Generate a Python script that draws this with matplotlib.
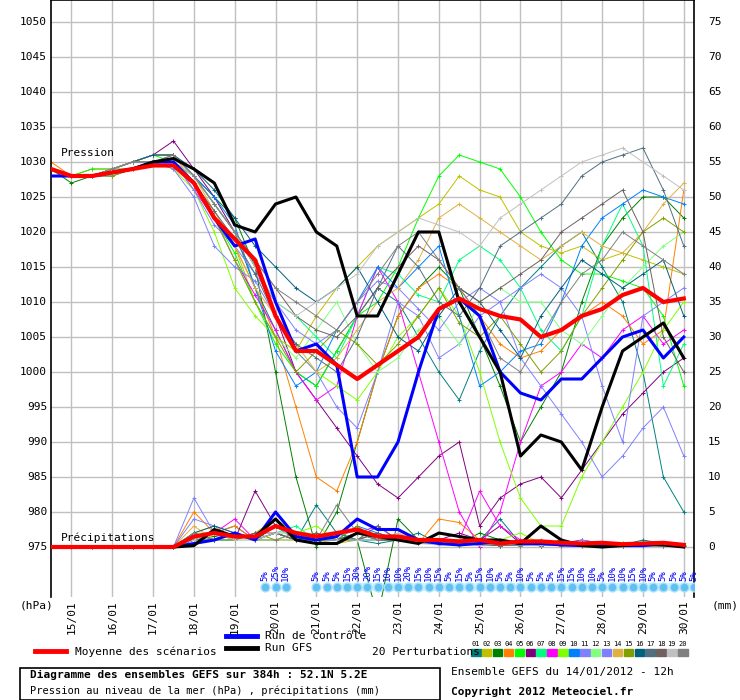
import numpy as np
import matplotlib.pyplot as plt
from matplotlib.patches import Rectangle

plt.rcParams['font.family'] = 'DejaVu Sans Mono'

# 12h steps from 14/01 12h
hours = np.arange(32) * 12

mean_p = [1029,1028,1028,1028.5,1029,1029.5,1029.5,1027,1022,1019,1016,1008,1003,1003,1001,999,1001,1003,1005,1009,1010.5,1009,1008,1007.5,1005,1006,1008,1009,1011,1012,1010,1010.5]
ctrl_p = [1028,1028,1028,1028.5,1029,1030,1030,1027,1022,1018,1019,1010,1003,1004,1001,985,985,990,1000,1009,1010.5,1008,1000,997,996,999,999,1002,1005,1006,1002,1005]
gfs_p = [1029,1028,1028,1028.5,1029,1030,1030.5,1029,1027,1021,1020,1024,1025,1020,1018,1008,1008,1014,1020,1020,1010,1005,1000,988,991,990,986,995,1003,1005,1007,1002]

members_p = [
    [1029,1028,1028,1029,1030,1031,1031,1028,1024,1020,1012,1006,1000,998,1003,1008,1012,1010,1005,1000,996,1003,1008,1012,1015,1018,1020,1015,1010,1000,985,980],
    [1029,1028,1028,1029,1030,1030,1030,1027,1022,1018,1010,1005,1003,1008,1012,1015,1018,1020,1022,1024,1028,1026,1025,1020,1018,1017,1018,1016,1017,1016,1015,1014],
    [1029,1027,1028,1029,1029,1030,1030,1028,1025,1022,1015,1000,985,975,980,990,1000,1008,1012,1015,1012,1005,998,990,995,1000,1010,1018,1022,1025,1025,1022],
    [1030,1028,1029,1029,1030,1031,1031,1027,1023,1018,1012,1005,995,985,983,990,1000,1008,1012,1014,1012,1008,1004,1002,1003,1006,1008,1010,1008,1004,1006,1026],
    [1029,1028,1029,1029,1030,1031,1030,1027,1022,1017,1010,1004,1000,998,1003,1008,1010,1015,1022,1028,1031,1030,1029,1025,1020,1016,1014,1014,1013,1012,1008,998],
    [1029,1028,1028,1029,1030,1031,1033,1029,1025,1020,1015,1008,1000,996,992,988,984,982,985,988,990,978,982,984,985,982,986,990,994,997,1000,1002],
    [1029,1028,1028,1028,1029,1030,1030,1028,1024,1020,1015,1010,1008,1005,1002,1008,1015,1014,1011,1010,1016,1018,1016,1012,1006,1003,1008,1018,1024,1018,998,1004],
    [1029,1028,1028,1029,1030,1030,1030,1026,1022,1016,1011,1006,1000,996,998,1008,1015,1010,1000,990,980,975,980,990,998,1000,1004,1002,1006,1008,1004,1006],
    [1029,1028,1028,1029,1030,1030,1029,1026,1020,1012,1008,1005,1003,1000,998,996,1000,1005,1008,1012,1008,1000,990,982,978,978,985,990,995,1000,1006,1010],
    [1029,1028,1028,1029,1030,1031,1031,1028,1025,1021,1012,1003,998,1000,1006,1010,1015,1012,1015,1018,1008,998,1000,1003,1004,1010,1018,1022,1024,1026,1025,1024],
    [1029,1028,1028,1028,1029,1030,1029,1025,1018,1015,1013,1008,1003,1000,995,992,1000,1010,1008,1002,1004,1008,1010,1012,1014,1012,1008,998,990,1008,1010,1012],
    [1029,1028,1028,1029,1029,1030,1030,1027,1022,1016,1010,1005,1002,1006,1010,1004,1000,1002,1006,1008,1004,1010,1012,1010,1010,1006,1004,1008,1012,1015,1018,1020],
    [1029,1028,1028,1029,1030,1030,1030,1026,1021,1018,1014,1010,1006,1004,1006,1010,1013,1012,1009,1006,1010,1012,1010,1002,998,994,990,985,988,992,995,988],
    [1029,1028,1028,1029,1030,1031,1031,1028,1023,1018,1012,1008,1004,1000,1002,1006,1010,1012,1016,1022,1024,1022,1020,1018,1016,1018,1020,1018,1017,1020,1024,1027],
    [1029,1028,1028,1028,1029,1030,1030,1027,1022,1016,1010,1005,1000,1003,1006,1004,1001,1004,1008,1012,1007,1005,1008,1004,1000,1003,1008,1012,1016,1020,1022,1020],
    [1029,1028,1028,1029,1030,1031,1031,1029,1026,1022,1018,1015,1012,1010,1012,1015,1010,1005,1003,1008,1012,1010,1006,1002,1008,1012,1016,1014,1012,1014,1016,1008],
    [1029,1028,1028,1029,1030,1030,1030,1027,1023,1019,1014,1008,1004,1002,1000,1005,1012,1018,1015,1010,1008,1012,1018,1020,1022,1024,1028,1030,1031,1032,1026,1018],
    [1029,1028,1028,1029,1030,1030,1031,1028,1024,1020,1016,1012,1008,1006,1005,1008,1012,1015,1018,1016,1012,1010,1012,1014,1016,1020,1022,1024,1026,1020,1005,1000],
    [1029,1028,1028,1029,1030,1030,1030,1028,1024,1020,1015,1010,1008,1010,1012,1014,1018,1020,1022,1021,1020,1018,1022,1024,1026,1028,1030,1031,1032,1030,1028,1026],
    [1029,1028,1028,1029,1030,1030,1031,1028,1024,1020,1016,1012,1010,1008,1006,1010,1014,1018,1020,1016,1012,1008,1002,1000,1005,1010,1014,1016,1020,1018,1016,1014],
]

mean_r = [0,0,0,0,0,0,0,1.5,2,1.5,1.5,3,2,1.5,2,2.5,1.5,1.5,1,1,0.8,1,0.5,0.8,0.8,0.6,0.5,0.6,0.4,0.5,0.6,0.3]
ctrl_r = [0,0,0,0,0,0,0,0.5,1,2,1,5,1.5,1,1.5,4,2.5,2.5,1,0.5,0.3,0.5,0.8,0.5,0.5,0.3,0.2,0.3,0.2,0.2,0.5,0.2]
gfs_r = [0,0,0,0,0,0,0,0.2,2.5,1.5,1.5,4,1,0.5,0.5,2,1.5,1,0.5,2,1.5,1,1,0.5,3,1,0.2,0,0.2,0.5,0.3,0]

members_r = [
    [0,0,0,0,0,0,0,1,2,3,1,2,1,6,2,1,0.5,1,2,0.5,0.3,1,4,0.5,0.2,0.3,0.5,0.2,0.3,1,0.5,0.2],
    [0,0,0,0,0,0,0,2,3,1,2,4,2,1,0.5,1,3,1,0.5,1,0.2,0.5,0.3,1,0.5,0.2,0.1,0.3,0.5,0.2,0.1,0.3],
    [0,0,0,0,0,0,0,1,1.5,2,1,3,1,0.5,2,1,-10,4,1,0.5,0.5,2,1,0.5,0.3,1,0.5,0.2,0.3,0.1,0.5,0.2],
    [0,0,0,0,0,0,0,5,2,3,1,2,1,2,1,1,2,1,0.5,4,3.5,1,0.5,0.5,0.3,0.2,0.5,0.3,0.2,0.5,0.3,0.2],
    [0,0,0,0,0,0,0,2,1,1,2,3,2,1,2,1,1,1,0.5,0.5,0.3,0.5,0.2,0.3,1,0.5,0.3,0.2,0.5,0.2,0.3,0.1],
    [0,0,0,0,0,0,0,1,2,1,8,3,2,1,1,2,1,1,0.5,1,2,1,3,0.5,0.2,0.5,1,0.5,0.2,0.3,0.2,0.1],
    [0,0,0,0,0,0,0,2,1,2,1,2,3,1,2,1,2,1,1,0.5,0.5,1,0.5,0.3,0.5,0.2,0.3,0.2,0.1,0.3,0.2,0.1],
    [0,0,0,0,0,0,0,1,2,4,1,2,1,1,1,2,3,1,1,0.5,1,8,3,1,0.5,0.3,0.2,0.3,0.2,0.5,0.3,0.2],
    [0,0,0,0,0,0,0,2,1,2,1,1,2,3,1,1,2,1,0.5,0.5,1,0.5,1,2,0.5,0.3,0.2,0.3,0.5,0.2,0.3,0.1],
    [0,0,0,0,0,0,0,1,1,2,1,2,1,1,1,3,2,1,0.5,1,0.5,0.3,0.5,0.3,0.2,0.5,0.2,0.1,0.2,0.3,0.2,0.1],
    [0,0,0,0,0,0,0,7,2,1,2,3,1,2,1,1,1,1,0.5,0.5,0.3,0.5,0.2,0.3,0.5,0.2,0.1,0.3,0.2,0.1,0.2,0.1],
    [0,0,0,0,0,0,0,2,2,1,1,2,2,1,1,2,1,1,0.5,0.5,1,0.5,0.3,0.2,0.5,0.3,0.2,0.3,0.2,0.1,0.2,0.3],
    [0,0,0,0,0,0,0,4,3,2,1,2,1,1,1,1,2,1,1,0.5,0.3,0.5,0.5,0.2,0.3,0.2,1,0.5,0.2,0.1,0.3,0.2],
    [0,0,0,0,0,0,0,3,1,2,1,2,1,2,1,2,1,2,1,0.5,0.3,1,0.5,0.3,0.2,0.3,0.5,0.2,0.3,0.2,0.1,0.2],
    [0,0,0,0,0,0,0,1,2,1,2,1,1,2,1,3,1,1,0.5,1,0.5,0.3,0.5,0.3,0.5,0.2,0.3,0.2,0.1,0.2,0.3,0.1],
    [0,0,0,0,0,0,0,2,3,2,1,3,2,1,1,2,1,1,1,0.5,0.3,0.5,0.2,0.3,0.5,0.3,0.2,0.1,0.3,0.2,0.1,0.2],
    [0,0,0,0,0,0,0,1,1,2,1,2,1,1,2,1,3,1,0.5,0.5,0.3,0.5,0.3,0.2,0.3,0.2,0.5,0.3,0.2,0.1,0.2,0.1],
    [0,0,0,0,0,0,0,2,1,1,2,2,1,2,1,1,2,1,0.5,0.5,0.5,0.3,0.2,0.3,0.2,0.3,0.2,0.1,0.2,0.3,0.1,0.2],
    [0,0,0,0,0,0,0,1,2,1,1,2,2,1,1,1,1,2,0.5,0.3,0.5,0.3,0.5,0.2,0.3,0.2,0.1,0.2,0.3,0.1,0.2,0.1],
    [0,0,0,0,0,0,0,2,1,2,1,1,2,1,6,2,1,1,1,0.5,0.3,0.5,0.3,0.2,0.5,0.2,0.3,0.2,0.1,0.2,0.1,0.2],
]

member_colors = ['#008080','#c0c000','#008000','#ff8000','#00ff00','#800080','#00ff80','#ff00ff','#80ff00','#0080ff',
                 '#8080ff','#80ff80','#8080ff','#e0b040','#80a000','#006080','#507080','#706060','#c0c0c0','#808080']

prob_hours = [126,132,138,156,162,168] + list(range(174,379,6))
prob_labels = ['5%','25%','10%','5%','5%','5%',
               '15%','30%','20%','15%','10%','10%','20%','15%','10%','15%','5%','15%','5%','15%','10%','5%','5%','10%',
               '5%','5%','5%','15%','15%','10%','10%','5%','10%','10%','15%','10%','5%','5%','5%','5%','5%']

day_labels = ['15/01','16/01','17/01','18/01','19/01','20/01','21/01','22/01','23/01','24/01','25/01','26/01','27/01','28/01','29/01','30/01']

W, H = 740, 700
fig = plt.figure(figsize=(7.4, 7.0), dpi=100)
ax = fig.add_axes([51/W, 1 - 597/H, 643/W, 597/H])
ax.set_xlim(0, 378)
ax.set_ylim(975 - 50/7, 975 + 547/7)
ax.set_xticks([])
ax.set_yticks([])
for s in ax.spines.values():
    s.set_linewidth(1.2)
ax.spines['bottom'].set_visible(False)

# grid
for k in range(16):
    ax.axvline(12 + 24*k, color='#c0c0c0', lw=1, zorder=0)
for v in range(975, 1051, 5):
    ax.axhline(v, color='#c0c0c0', lw=1, zorder=0)

# members
for p, r, c in zip(members_p, members_r, member_colors):
    ax.plot(hours, p, color=c, lw=0.7, marker='+', ms=3, mew=0.7, zorder=2)
    ax.plot(hours, 975 + np.array(r), color=c, lw=0.7, marker='+', ms=3, mew=0.7, zorder=2)

ax.plot(hours, ctrl_p, color='#0000ff', lw=2.2, zorder=3)
ax.plot(hours, 975 + np.array(ctrl_r), color='#0000ff', lw=2.2, zorder=3)
ax.plot(hours, gfs_p, color='black', lw=2.2, zorder=3)
ax.plot(hours, 975 + np.array(gfs_r), color='black', lw=2.2, zorder=3)
ax.plot(hours, mean_p, color='#ff0000', lw=3, zorder=4)
ax.plot(hours, 975 + np.array(mean_r), color='#ff0000', lw=3, zorder=4)

ax.text(6, 1030.6, 'Pression', fontsize=8, va='bottom')
ax.text(6, 975.6, 'Précipitations', fontsize=8, va='bottom')

# precipitation probability badges
ybadge = 975 - 40/7
ax.bar(prob_hours[6:], 8/7, bottom=ybadge - 4/7, width=6, color='#c8f8ff', zorder=1)
ax.scatter(prob_hours, [ybadge]*len(prob_hours), s=40, color='#60c0f0', edgecolor='#a8e0ff', lw=1, zorder=5)
for h, lab in zip(prob_hours, prob_labels):
    ax.text(h, ybadge + 0.8, lab, rotation=90, color='#0000ff', fontsize=6.5, ha='center', va='bottom', zorder=6)

# axis labels
for v in range(975, 1051, 5):
    fig.text(47/W, 1 - (547 - (v-975)*7)/H, str(v), fontsize=8, ha='right', va='center')
    fig.text(708/W, 1 - (547 - (v-975)*7)/H, str(v-975), fontsize=8, ha='left', va='center')
for k, d in enumerate(day_labels):
    x = 51 + (12 + 24*k) / 378 * 643
    fig.text(x/W, 1 - 600/H, d, rotation=90, fontsize=8, ha='center', va='top')
fig.text(20/W, 1 - 606/H, '(hPa)', fontsize=8, va='center')
fig.text(712/W, 1 - 606/H, '(mm)', fontsize=8, va='center')

# legend
tf = fig.transFigure
fig.lines.append(plt.Line2D([35/W, 66/W], [1-651/H]*2, color='#ff0000', lw=3.5, transform=tf))
fig.text(75/W, 1-652/H, 'Moyenne des scénarios', fontsize=8, va='center')
fig.lines.append(plt.Line2D([226/W, 257/W], [1-636/H]*2, color='#0000ff', lw=3.5, transform=tf))
fig.text(265/W, 1-636/H, 'Run de contrôle', fontsize=8, va='center')
fig.lines.append(plt.Line2D([226/W, 257/W], [1-648/H]*2, color='black', lw=3.5, transform=tf))
fig.text(265/W, 1-648/H, 'Run GFS', fontsize=8, va='center')
fig.text(372/W, 1-652/H, '20 Perturbations', fontsize=8, va='center')
for k, c in enumerate(member_colors):
    x0 = 471 + k * 10.9
    fig.patches.append(Rectangle((x0/W, 1-656/H), 9.5/W, 7/H, color=c, transform=tf))
    fig.text((x0 + 4.7)/W, 1-644/H, '%02d' % (k+1), fontsize=5, ha='center', va='center')

fig.patches.append(Rectangle((20/W, 0), 420/W, 32/H, fill=False, ec='black', lw=1.2, transform=tf))
fig.text(30/W, 1-675/H, 'Diagramme des ensembles GEFS sur 384h : 52.1N 5.2E', fontsize=8, fontweight='bold', va='center')
fig.text(30/W, 1-691/H, 'Pression au niveau de la mer (hPa) , précipitations (mm)', fontsize=7.5, va='center')
fig.text(451/W, 1-672/H, 'Ensemble GEFS du 14/01/2012 - 12h', fontsize=8, va='center')
fig.text(451/W, 1-692/H, 'Copyright 2012 Meteociel.fr', fontsize=8, fontweight='bold', va='center')

fig.savefig('out.png', dpi=100)
